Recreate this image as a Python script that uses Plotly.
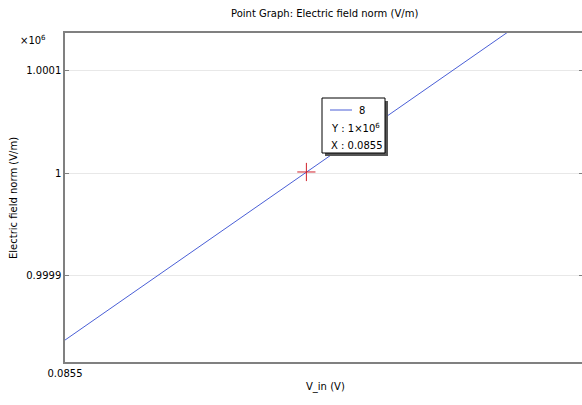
import plotly.graph_objects as go

# Data
v_in = [0.0855, 0.08553]
e_norm = [999837.0, 1000188.0]
point_v = [0.085514]
point_e = [1000001.0]
series_label = "8"
y_tickvals = [999900, 1000000, 1000100]
y_ticktext = ["0.9999", "1", "1.0001"]
x_tickvals = [0.0855]
x_ticktext = ["0.0855"]

W, H = 582, 405
L, R, T, B = 65, 0, 33, 43
pw, ph = W - L - R, H - T - B
y_range = [999815.6, 1000136.6]

def px(xp):
    return (xp - L) / pw

def py(yp):
    return (H - B - yp) / ph

FONT = "DejaVu Sans"
fig = go.Figure()
fig.add_trace(go.Scatter(x=v_in, y=e_norm, mode="lines",
                         line=dict(color="#4a5fd6", width=1), showlegend=False, hoverinfo="skip"))
fig.add_trace(go.Scatter(x=point_v, y=point_e, mode="markers",
                         marker=dict(symbol="cross-thin", size=13, line=dict(color="#d0202a", width=1)),
                         showlegend=False))
# invisible trace to anchor the right-side tick axis
fig.add_trace(go.Scatter(x=point_v, y=point_e, mode="markers", yaxis="y2",
                         marker=dict(opacity=0), showlegend=False, hoverinfo="skip"))

# tooltip box
bx0, by0, bx1, by1 = 322, 98, 385, 153
shapes = [
    dict(type="rect", xref="paper", yref="paper", x0=px(bx0 + 3), x1=px(bx1 + 3), y0=py(by1 + 3), y1=py(by0 + 3),
         fillcolor="#555555", line=dict(width=0), layer="above"),
    dict(type="rect", xref="paper", yref="paper", x0=px(bx0), x1=px(bx1), y0=py(by1), y1=py(by0),
         fillcolor="white", line=dict(color="black", width=1), layer="above"),
    dict(type="line", xref="paper", yref="paper", x0=px(330), x1=px(352), y0=py(110), y1=py(110),
         line=dict(color="#4a5fd6", width=1), layer="above"),
]
annotations = [
    dict(text=series_label, xref="paper", yref="paper", x=px(357), y=py(110), xanchor="left", yanchor="middle",
         showarrow=False, font=dict(family=FONT, size=10, color="black")),
    dict(text="Y : 1×10<sup>6</sup>", xref="paper", yref="paper", x=px(329), y=py(128), xanchor="left", yanchor="middle",
         showarrow=False, font=dict(family=FONT, size=10, color="black")),
    dict(text="X : " + x_ticktext[0], xref="paper", yref="paper", x=px(329), y=py(145), xanchor="left", yanchor="middle",
         showarrow=False, font=dict(family=FONT, size=10, color="black")),
    dict(text="×10<sup>6</sup>", xref="paper", yref="paper", x=px(48), y=py(40), xanchor="right", yanchor="middle",
         showarrow=False, font=dict(family=FONT, size=10, color="black")),
    dict(text="Point Graph: Electric field norm (V/m)", xref="paper", yref="paper", x=px(324), y=py(13),
         xanchor="center", yanchor="middle", showarrow=False, font=dict(family=FONT, size=10, color="black")),
    dict(text="V_in (V)", xref="paper", yref="paper", x=px(325), y=py(387),
         xanchor="center", yanchor="middle", showarrow=False, font=dict(family=FONT, size=10, color="black")),
    dict(text="Electric field norm (V/m)", xref="paper", yref="paper", x=px(13), y=py(198), textangle=-90,
         xanchor="center", yanchor="middle", showarrow=False, font=dict(family=FONT, size=10, color="black")),
]

fig.update_layout(
    width=W, height=H,
    margin=dict(l=L, r=R, t=T, b=B, pad=0),
    paper_bgcolor="white", plot_bgcolor="white",
    font=dict(family=FONT, size=10, color="black"),
    shapes=shapes, annotations=annotations,
    showlegend=False,
    yaxis=dict(range=y_range, tickvals=y_tickvals, ticktext=y_ticktext,
               showgrid=True, gridcolor="#e8e8e8", gridwidth=1, zeroline=False,
               showline=True, linecolor="#808080", linewidth=1.5, mirror=False,
               ticks="inside", ticklen=4, tickcolor="#808080"),
    yaxis2=dict(overlaying="y", side="right", range=y_range, tickvals=y_tickvals,
                showticklabels=False, showgrid=False, zeroline=False, showline=False,
                ticks="inside", ticklen=3, tickcolor="#808080"),
    xaxis=dict(range=[0.0855, 0.0855 + 517 * 5.8e-8], tickvals=x_tickvals, ticktext=x_ticktext,
               showgrid=False, zeroline=False, showline=True, linecolor="#808080", linewidth=1.5,
               mirror=True, ticks="", ticklabelstandoff=1),
)

fig.write_html("out.html", config={"displayModeBar": False},
               post_script="document.body.style.margin='0';")
